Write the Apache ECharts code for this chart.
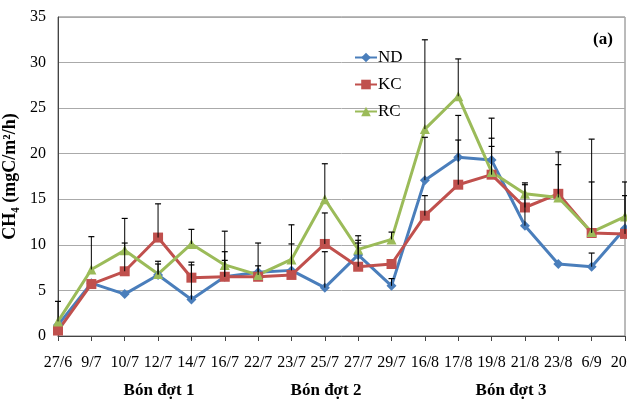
<!DOCTYPE html>
<html><head><meta charset="utf-8">
<script src="https://cdn.jsdelivr.net/npm/echarts@6/dist/echarts.min.js"></script>
<style>html,body{margin:0;padding:0;background:#fff}#c{width:627px;height:403px}</style>
</head><body><div id="c"></div>
<script>
const categories = ['27/6','9/7','10/7','12/7','14/7','16/7','22/7','23/7','25/7','27/7','29/7','16/8','17/8','19/8','21/8','23/8','6/9','20/9'];
const ND = [1.2,5.8,4.6,6.7,4.0,6.5,7.0,7.2,5.3,8.9,5.5,17.1,19.6,19.3,12.1,7.9,7.6,11.8];
const KC = [0.6,5.7,7.1,10.8,6.4,6.5,6.5,6.7,10.1,7.6,7.9,13.2,16.6,17.7,14.1,15.6,11.3,11.2];
const RC = [1.6,7.3,9.4,6.8,10.1,7.8,6.7,8.4,15.0,9.5,10.6,22.7,26.3,18.0,15.6,15.2,11.4,13.1];
// upper ends of error bars (null = none visible)
const ND_err = [null,null,null,8.2,7.8,8.3,7.7,10.1,9.25,10.2,6.3,21.8,24.2,23.9,16.8,null,9.1,null];
const KC_err = [null,null,10.2,14.5,8.1,9.25,null,null,13.5,10.5,null,15.4,21.5,20.8,16.6,20.2,16.9,15.4];
const RC_err = [3.8,10.9,12.9,7.9,11.7,11.5,10.2,12.2,18.9,11.0,11.4,32.5,30.4,21.7,null,18.8,21.6,16.9];
const yTicks = [0,5,10,15,20,25,30,35];
const groupLabels = ['Bón đợt 1','Bón đợt 2','Bón đợt 3'];

const chart = echarts.init(document.getElementById('c'), null, {renderer:'canvas'});
const serif = 'Liberation Serif, Times New Roman, serif';

function errData(vals, errs){
  const d=[];
  vals.forEach((v,i)=>{ if(errs[i]!=null) d.push([i,v,errs[i]]); });
  return d;
}
function errSeries(vals, errs){
  return {
    type:'custom', z:5, silent:true,
    data: errData(vals, errs),
    encode:{x:0,y:[1,2]},
    renderItem:function(params, api){
      const x = api.value(0);
      const p0 = api.coord([x, api.value(1)]);
      const p1 = api.coord([x, api.value(2)]);
      const w = 3;
      return {type:'group', children:[
        {type:'line', shape:{x1:p0[0],y1:p0[1],x2:p1[0],y2:p1[1]}, style:{stroke:'#000',lineWidth:1}},
        {type:'line', shape:{x1:p1[0]-w,y1:p1[1],x2:p1[0]+w,y2:p1[1]}, style:{stroke:'#000',lineWidth:1.2}}
      ]};
    }
  };
}
function lineSeries(name, data, color, symbol, size){
  return {name, type:'line', data, z:3, symbol, symbolSize:size,
    lineStyle:{color, width:3}, itemStyle:{color}, emphasis:{disabled:true}};
}

chart.setOption({
  animation:false,
  grid:{left:58, right:2, top:17, bottom:67, show:true, borderColor:'#777', borderWidth:1, containLabel:false, outerBoundsMode:'none'},
  legend:{
    orient:'vertical', left:349, top:44, itemGap:10, itemWidth:22, itemHeight:12,
    textStyle:{fontFamily:serif, fontSize:17, color:'#000', padding:[0,0,0,-4]},
    data:['ND','KC','RC']
  },
  xAxis:{type:'category', data:categories, boundaryGap:false,
    axisLine:{lineStyle:{color:'#444'}},
    axisTick:{show:true, alignWithLabel:true, length:5, lineStyle:{color:'#444'}},
    axisLabel:{fontFamily:serif, fontSize:16, color:'#000', margin:19, interval:0, alignMinLabel:'center', alignMaxLabel:'center', hideOverlap:false},
    splitLine:{show:false}
  },
  yAxis:{type:'value', min:yTicks[0], max:yTicks[yTicks.length-1], interval:5,
    axisLine:{show:true, lineStyle:{color:'#444'}},
    axisTick:{show:false},
    axisLabel:{fontFamily:serif, fontSize:16, color:'#000', margin:12},
    splitLine:{lineStyle:{color:'#aaa', width:1}},
    name:'CH₄ (mgC/m²/h)', nameLocation:'middle', nameGap:28,
    nameTextStyle:{fontFamily:serif, fontSize:18, fontWeight:'bold', color:'#000'}
  },
  graphic:[
    {type:'text', left:593, top:31, style:{text:'(a)', font:'bold 17px '+serif, fill:'#000'}},
    {type:'text', x:159, y:391, style:{text:groupLabels[0], font:'bold 17px '+serif, fill:'#000', textAlign:'center', textVerticalAlign:'middle'}},
    {type:'text', x:326, y:391, style:{text:groupLabels[1], font:'bold 17px '+serif, fill:'#000', textAlign:'center', textVerticalAlign:'middle'}},
    {type:'text', x:511, y:391, style:{text:groupLabels[2], font:'bold 17px '+serif, fill:'#000', textAlign:'center', textVerticalAlign:'middle'}}
  ],
  series:[
    lineSeries('ND', ND, '#4A7EBB', 'diamond', 10),
    lineSeries('KC', KC, '#C0504D', 'rect', 10),
    lineSeries('RC', RC, '#9BBB59', 'triangle', 10),
    errSeries(ND, ND_err),
    errSeries(KC, KC_err),
    errSeries(RC, RC_err)
  ]
});
</script></body></html>
